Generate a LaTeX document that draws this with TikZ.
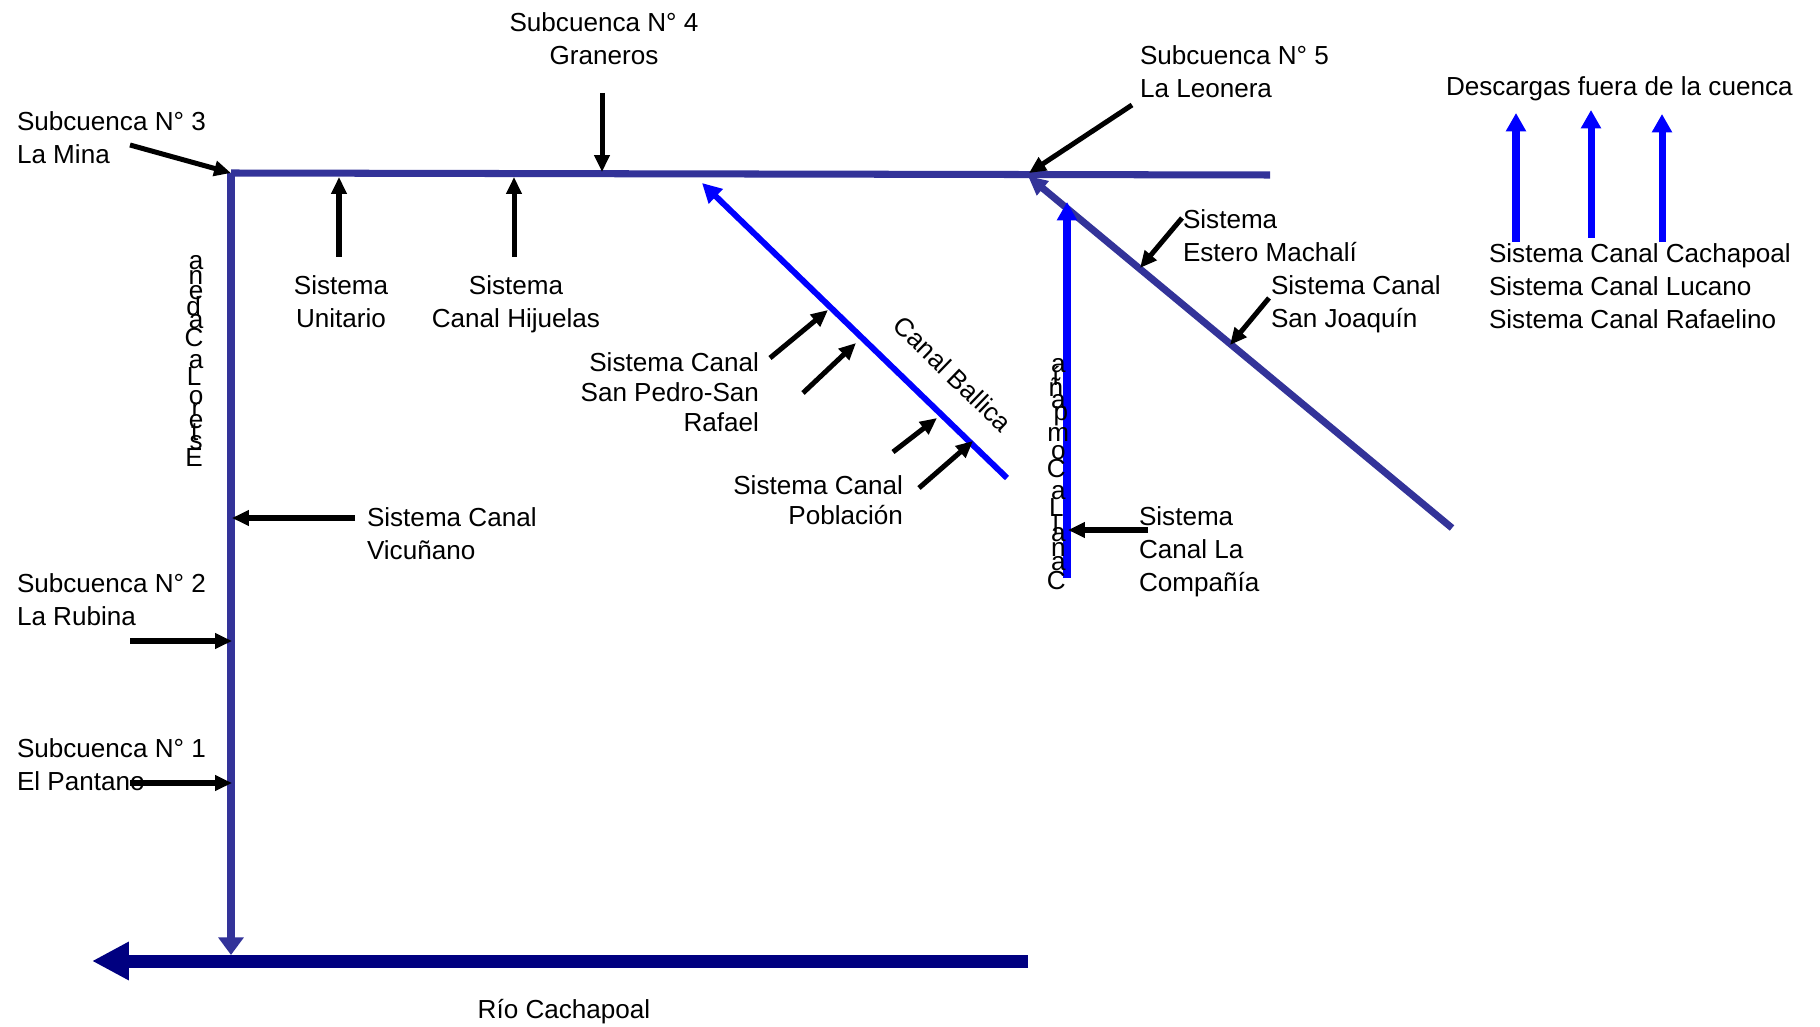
\documentclass[tikz,border=0pt]{standalone}
\usepackage{fontspec}
\usepackage{graphicx}
\setmainfont{Liberation Sans}
\usetikzlibrary{arrows.meta}
\definecolor{slate}{HTML}{333399}
\definecolor{river}{HTML}{000080}
\definecolor{bluec}{HTML}{0000FF}
\newlength\uprgw
\newcommand\uprg[1]{\settowidth\uprgw{#1}\makebox[\uprgw][c]{\rotatebox[origin=c]{-90}{#1}}}
\newcommand\uprgsp{\hspace{0.278em}}
\tikzset{
  every node/.style={font=\fontsize{14.85}{18.7}\selectfont, inner sep=0pt, outer sep=0pt},
  lblw/.style={align=left, anchor=west},
  lble/.style={align=right, anchor=east, font=\fontsize{14.85}{17.1}\selectfont},
  lblc/.style={align=center},
  feeder/.style={black, line width=2.85pt, -{Triangle[length=9.6pt,width=8.5pt]}},
  mainch/.style={slate, line width=4pt},
  slatearr/.style={slate, line width=4pt, -{Triangle[length=10pt,width=14pt]}},
  bluearr/.style={bluec, line width=4pt, -{Triangle[length=10.5pt,width=11pt]}},
  ballarr/.style={bluec, line width=3.4pt, -{Triangle[length=11pt,width=11pt]}},
  riverarr/.style={river, line width=7.4pt, -{Triangle[length=21pt,width=20.5pt]}},
}
\begin{document}
\begin{tikzpicture}[x=0.02cm,y=-0.02cm]
\useasboundingbox (0,0) rectangle (1820,1027);

% main channels
\coordinate (corner) at (231,173);
\coordinate (topend) at (1270,175);
\coordinate (leftbot) at (231,955);
\coordinate (junc) at (1028,174);
\coordinate (machend) at (1452,528);
\coordinate (machtip) at (1028,176);
\coordinate (compbot) at (1067,578);
\coordinate (comptop) at (1067,202);
\coordinate (ballbot) at (1007,478);
\coordinate (balltip) at (702,183);
\coordinate (riverstart) at (1028,961);
\coordinate (rivertip) at (92,961);

\draw[mainch] (corner) -- (topend);
\draw[slatearr] (corner) -- (leftbot);
\draw[riverarr] (riverstart) -- (rivertip);
\draw[slatearr, -{Triangle[length=11pt,width=10pt]}] (machend) -- (machtip);
\draw[bluearr] (compbot) -- (comptop);
\draw[ballarr] (ballbot) -- (balltip);

% descargas
\coordinate (d1a) at (1516,242); \coordinate (d1b) at (1516,113);
\coordinate (d2a) at (1591,238); \coordinate (d2b) at (1591,110);
\coordinate (d3a) at (1662,242); \coordinate (d3b) at (1662,114);
\draw[bluearr] (d1a) -- (d1b);
\draw[bluearr] (d2a) -- (d2b);
\draw[bluearr] (d3a) -- (d3b);

% labels
\node[lblw] (s3) at (17,137.5) {Subcuenca N° 3\\La Mina};
\node[lblc] (s4) at (604,39) {Subcuenca N° 4\\Graneros};
\node[lblw] (s5) at (1140,72) {Subcuenca N° 5\\La Leonera};
\node[anchor=west] (desc) at (1446,89) {Descargas fuera de la cuenca};
\node[lblc] (unit) at (341,302) {Sistema\\Unitario};
\node[lblc] (hij) at (516,304.5) {Sistema\\Canal Hijuelas};
\node[lblw] (mach) at (1183,236) {Sistema\\Estero Machalí};
\node[lblw] (joaq) at (1271,304) {Sistema Canal\\San Joaquín};
\node[lblw] (sis3) at (1489,286.5) {Sistema Canal Cachapoal\\Sistema Canal Lucano\\Sistema Canal Rafaelino};
\node[lble] (spsr) at (759,392.5) {Sistema Canal\\San Pedro-San\\Rafael};
\node[lble] (pob) at (903,500) {Sistema Canal\\Población};
\node[lblw] (vic) at (367,533.5) {Sistema Canal\\Vicuñano};
\node[lblw] (comp) at (1139,552) {Sistema\\Canal La\\Compañía};
\node[lblw] (s2) at (17,600) {Subcuenca N° 2\\La Rubina};
\node[lblw] (s1) at (17,764.5) {Subcuenca N° 1\\El Pantano};
\node (rio) at (564,1012) {Río Cachapoal};
\node[rotate=-44] (ball) at (953,374) {Canal Ballica};

% stacked vertical labels
\node[rotate=90] (estero) at (194,361) {\uprg{E}\uprg{s}\uprg{t}\uprg{e}\uprg{r}\uprg{o}\uprgsp\uprg{L}\uprg{a}\uprgsp\uprg{C}\uprg{a}\uprg{d}\uprg{e}\uprg{n}\uprg{a}};
\node[rotate=90] (canalc) at (1058,474) {\uprg{C}\uprg{a}\uprg{n}\uprg{a}\uprg{l}\uprgsp\uprg{L}\uprg{a}\uprgsp\uprg{C}\uprg{o}\uprg{m}\uprg{p}\uprg{a}\uprg{ñ}\uprg{í}\uprg{a}};

% feeder arrows
\coordinate (s3a) at (130,145); \coordinate (s3b) at (231,173);
\draw[feeder] (s3a) -- (s3b);
\coordinate (s4a) at (602,93); \coordinate (s4b) at (602,172);
\draw[feeder] (s4a) -- (s4b);
\coordinate (s5a) at (1132,105); \coordinate (s5b) at (1029,173);
\draw[feeder] (s5a) -- (s5b);
\coordinate (una) at (339,257); \coordinate (unb) at (339,177);
\draw[feeder] (una) -- (unb);
\coordinate (hia) at (514,257); \coordinate (hib) at (514,177);
\draw[feeder] (hia) -- (hib);
\coordinate (maa) at (1182,218); \coordinate (mab) at (1140,268);
\draw[feeder] (maa) -- (mab);
\coordinate (joa) at (1269,298); \coordinate (job) at (1230,345);
\draw[feeder] (joa) -- (job);
\coordinate (sp1a) at (770,358); \coordinate (sp1b) at (828,310);
\draw[feeder] (sp1a) -- (sp1b);
\coordinate (sp2a) at (803,393); \coordinate (sp2b) at (856,343);
\draw[feeder] (sp2a) -- (sp2b);
\coordinate (po1a) at (893,452); \coordinate (po1b) at (937,418);
\draw[feeder] (po1a) -- (po1b);
\coordinate (po2a) at (919,488); \coordinate (po2b) at (973,441);
\draw[feeder] (po2a) -- (po2b);
\coordinate (via) at (355,518); \coordinate (vib) at (232,518);
\draw[feeder] (via) -- (vib);
\coordinate (coa) at (1148,530); \coordinate (cob) at (1068,530);
\draw[feeder] (coa) -- (cob);
\coordinate (rua) at (130,641); \coordinate (rub) at (232,641);
\draw[feeder] (rua) -- (rub);
\coordinate (paa) at (130,783); \coordinate (pab) at (232,783);
\draw[feeder] (paa) -- (pab);
\end{tikzpicture}
\end{document}
